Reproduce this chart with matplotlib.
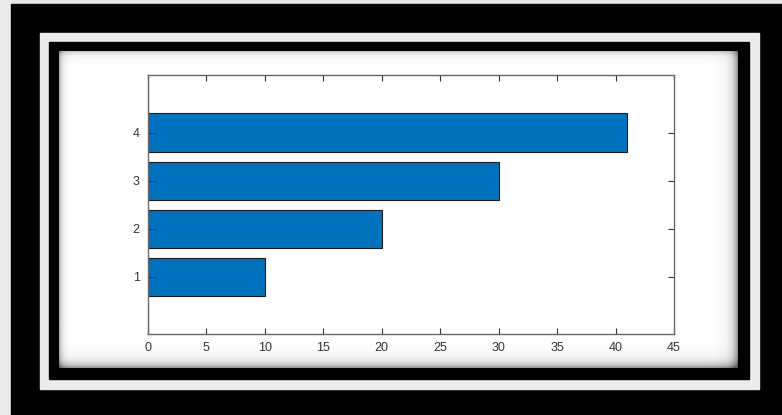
import numpy as np
import matplotlib
matplotlib.use('Agg')
import matplotlib.pyplot as plt
from matplotlib.patches import Rectangle

# bar data
categories = [1, 2, 3, 4]
values = [10, 20, 30, 41]
xticks = [0, 5, 10, 15, 20, 25, 30, 35, 40, 45]

W, H = 782, 415
fig = plt.figure(figsize=(W / 100, H / 100), dpi=100)

# frame drawn in pixel coords
bg = fig.add_axes([0, 0, 1, 1], zorder=0)
bg.set_xlim(0, W)
bg.set_ylim(H, 0)
bg.axis('off')

bg.add_patch(Rectangle((0, 0), W, H, color='#e9e9e9'))
bg.add_patch(Rectangle((11, 4), W - 11, H - 4, color='black'))
bg.add_patch(Rectangle((40, 33), 759 - 40, 389 - 33, color='#ececec'))
bg.add_patch(Rectangle((49, 42), 749 - 49, 379 - 42, color='black'))

# white panel with soft inner shadow
px0, px1, py0, py1 = 59, 738, 52, 368
xs = np.arange(px0, px1) + 0.5
ys = np.arange(py0, py1) + 0.5
X, Y = np.meshgrid(xs, ys)
shade = np.ones_like(X)
shade -= 0.35 * np.exp(-(X - px0) / 3.0)
shade -= 0.25 * np.exp(-(Y - py0) / 3.0)
shade -= 0.45 * np.exp(-(px1 - X) / 5.0)
shade -= 0.45 * np.exp(-(py1 - Y) / 5.0)
shade = np.clip(shade, 0.35, 1)
bg.imshow(shade, cmap='gray', vmin=0, vmax=1, extent=(px0, px1, py1, py0),
          interpolation='bilinear', aspect='auto', zorder=5)
bg.set_xlim(0, W)
bg.set_ylim(H, 0)

# the bar chart
ax_l, ax_r, ax_t, ax_b = 148, 674, 75.5, 334
ax = fig.add_axes([ax_l / W, (H - ax_b) / H, (ax_r - ax_l) / W, (ax_b - ax_t) / H], zorder=2)
ax.barh(categories, values, height=0.8, color='#0072BD', edgecolor='#1a1a1a', linewidth=0.8)
ax.set_xlim(0, 45)
ax.set_ylim(-0.19, 5.19)
ax.set_xticks(xticks)
ax.set_yticks(categories)
ax.tick_params(direction='in', length=4, width=0.8, colors='#333333', labelsize=9,
               top=True, right=True, pad=6)
for s in ax.spines.values():
    s.set_color('#666666')
    s.set_linewidth(1.0)
for lab in ax.get_xticklabels() + ax.get_yticklabels():
    lab.set_family(['Liberation Sans', 'DejaVu Sans'])

fig.savefig('out.png', dpi=100)
